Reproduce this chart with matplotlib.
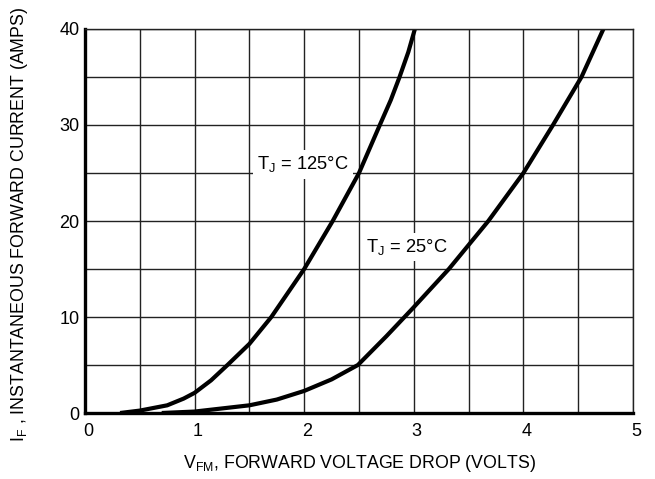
import matplotlib
matplotlib.use('Agg')
import matplotlib.pyplot as plt
from matplotlib import font_manager
from matplotlib.transforms import ScaledTranslation

# forward voltage (V) vs instantaneous forward current (A)
v_125 = [0.32, 0.5, 0.75, 0.9, 1.0, 1.15, 1.3, 1.5, 1.7, 2.0, 2.26, 2.5, 2.69, 2.79, 2.87, 2.95, 3.01]
i_125 = [0.0, 0.25, 0.8, 1.5, 2.1, 3.4, 5.0, 7.2, 10.0, 15.0, 20.0, 25.0, 30.0, 32.6, 35.0, 37.6, 40.0]

v_25 = [0.7, 1.0, 1.5, 1.75, 2.0, 2.25, 2.49, 2.75, 2.99, 3.32, 3.5, 3.68, 4.0, 4.27, 4.53, 4.73]
i_25 = [0.0, 0.15, 0.8, 1.4, 2.3, 3.5, 5.0, 8.0, 10.9, 15.0, 17.5, 20.0, 25.0, 30.0, 35.0, 40.0]

x_ticks = [0, 1, 2, 3, 4, 5]
y_ticks = [0, 10, 20, 30, 40]
label_125 = r'T$_\mathregular{J}$ = 125°C'
label_25 = r'T$_\mathregular{J}$ = 25°C'

names = {f.name for f in font_manager.fontManager.ttflist}
if 'Liberation Sans Narrow' in names:
    plt.rcParams['font.family'] = ['Liberation Sans Narrow', 'DejaVu Sans']
else:
    plt.rcParams['font.family'] = ['Liberation Sans', 'DejaVu Sans']
plt.rcParams['mathtext.default'] = 'regular'

fig = plt.figure(figsize=(6.55, 4.79), dpi=100)
ax = fig.add_axes([85 / 655, 1 - 413 / 479, 548 / 655, 384 / 479])

ax.set_xlim(0, 5)
ax.set_ylim(0, 40)
ax.set_xticks([x * 0.5 for x in range(11)], minor=True)
ax.set_yticks([y * 5 for y in range(9)], minor=True)
ax.set_xticks(x_ticks)
ax.set_yticks(y_ticks)
ax.grid(True, which='both', color='#222222', linewidth=1.0)
ax.set_axisbelow(True)
ax.tick_params(which='both', length=0)
ax.tick_params(axis='x', labelsize=13, pad=7)
ax.tick_params(axis='y', labelsize=13, pad=4)
for lab in ax.get_xticklabels():
    lab.set_transform(lab.get_transform() + ScaledTranslation(3 / 100, 0, fig.dpi_scale_trans))

for side in ['top', 'right']:
    ax.spines[side].set_linewidth(1.0)
    ax.spines[side].set_color('#222222')
for side in ['left', 'bottom']:
    ax.spines[side].set_linewidth(2.4)
    ax.spines[side].set_color('black')

ax.plot(v_125, i_125, color='black', linewidth=3.0, solid_capstyle='butt', solid_joinstyle='round')
ax.plot(v_25, i_25, color='black', linewidth=3.0, solid_capstyle='butt', solid_joinstyle='round')

box = dict(facecolor='white', edgecolor='none', pad=3)
ax.text(1.99, 25.9, label_125, fontsize=13.2, ha='center', va='center', bbox=box, zorder=3)
ax.text(2.94, 17.3, label_25, fontsize=13.2, ha='center', va='center', bbox=box, zorder=3)

ax.set_xlabel(r'V$_\mathregular{FM}$, FORWARD VOLTAGE DROP (VOLTS)', fontsize=12.8)
ax.xaxis.set_label_coords(0.5, -0.105)
ax.set_ylabel(r'I$_\mathregular{F}$ , INSTANTANEOUS FORWARD CURRENT (AMPS)', fontsize=12.8)
ax.yaxis.set_label_coords(-0.1, 0.49)

fig.savefig('out.png', dpi=100)
plt.close(fig)
